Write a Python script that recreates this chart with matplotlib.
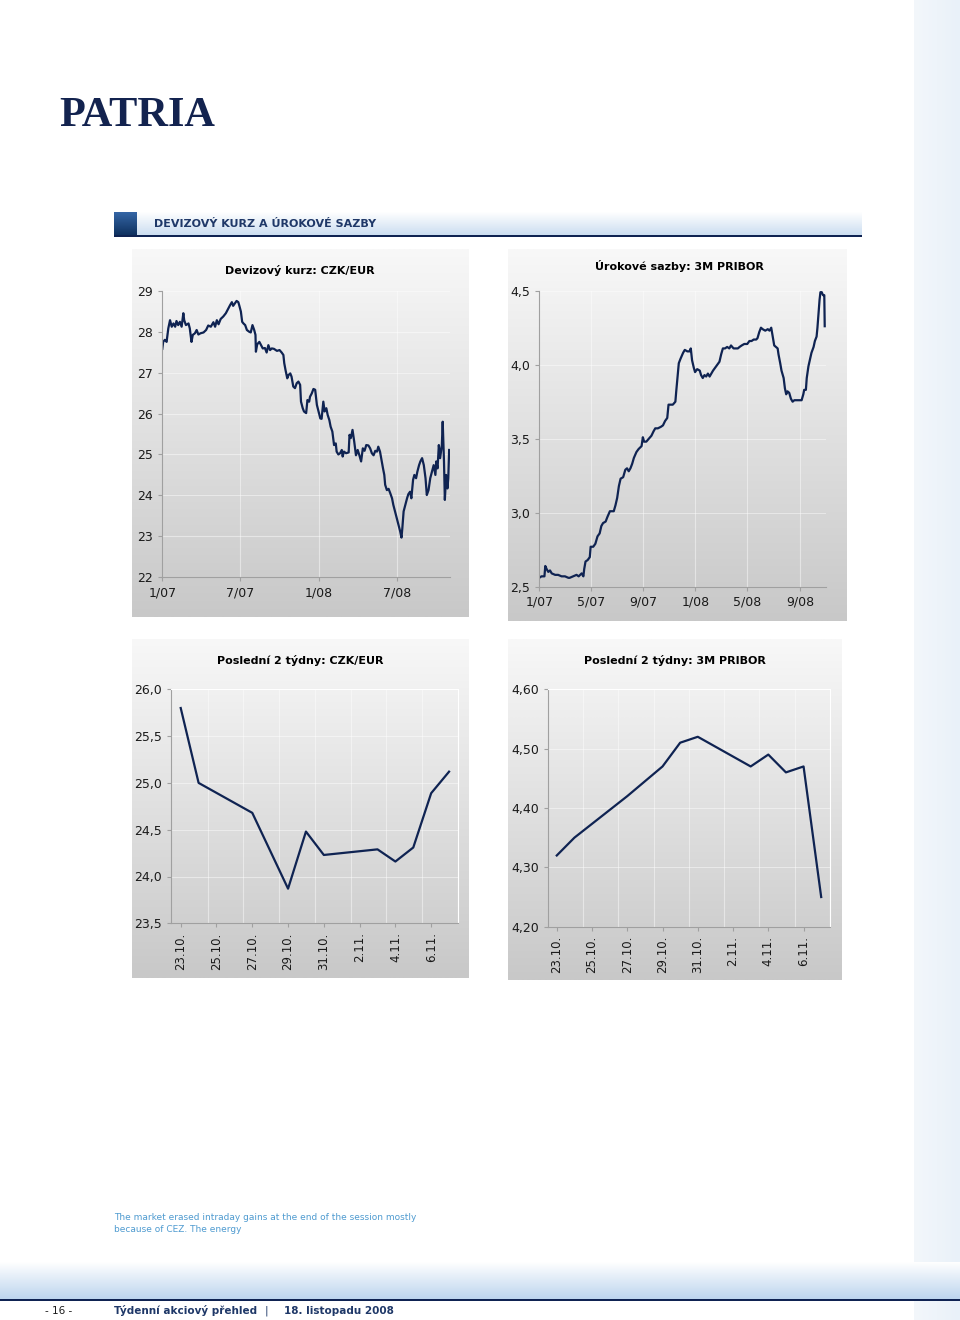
import numpy as np
import pandas as pd
import matplotlib
matplotlib.use("Agg")
import matplotlib.pyplot as plt
import matplotlib.dates as mdates
from matplotlib.colors import LinearSegmentedColormap
from matplotlib.ticker import FuncFormatter

# CZK/EUR od 1.1.2007 (dny od zacatku roku 2007)
czk_days = [0, 2, 6, 10, 14, 18, 22, 26, 30, 33, 37, 41, 45, 49, 51, 55, 61, 64, 68, 71,
            76, 80, 84, 89, 96, 102, 107, 113, 119, 123, 127, 131, 136, 142, 148, 154, 158, 162, 165, 169,
            173, 177, 179, 183, 186, 189, 193, 197, 202, 206, 210, 214, 217, 218, 221, 226, 230, 234, 239, 243,
            247, 251, 255, 260, 267, 273, 278, 282, 284, 287, 291, 294, 298, 301, 305, 309, 313, 317, 321, 323,
            327, 330, 335, 338, 342, 344, 348, 352, 356, 360, 364, 368, 371, 375, 378, 382, 385, 389, 392, 396,
            400, 404, 406, 410, 414, 418, 420, 423, 428, 434, 436, 439, 443, 447, 451, 455, 459, 463, 467, 471,
            475, 480, 484, 488, 492, 496, 500, 503, 507, 511, 514, 517, 519, 523, 527, 531, 535, 538, 542, 546,
            550, 554, 557, 559, 562, 566, 570, 573, 577, 580, 584, 587, 591, 594, 598, 601, 605, 609, 613, 616,
            620, 624, 628, 632, 636, 638, 641, 644, 647, 651, 653, 656, 658, 661, 664, 666, 668]
czk_values = [27.58, 27.75, 27.8, 27.75, 28.08, 28.28, 28.12, 28.2, 28.12, 28.26,
              28.16, 28.24, 28.12, 28.45, 28.28, 28.16, 28.2, 28.08, 27.75, 27.92,
              27.96, 28.04, 27.93, 27.96, 27.98, 28.04, 28.15, 28.12, 28.23, 28.12,
              28.28, 28.18, 28.31, 28.37, 28.45, 28.57, 28.65, 28.72, 28.63, 28.69,
              28.75, 28.72, 28.65, 28.49, 28.24, 28.2, 28.16, 28.04, 28.0, 27.98,
              28.16, 28.04, 27.92, 27.51, 27.69, 27.75, 27.67, 27.59, 27.6, 27.49,
              27.67, 27.55, 27.59, 27.58, 27.53, 27.55, 27.49, 27.43, 27.23, 27.06,
              26.86, 26.94, 26.98, 26.9, 26.66, 26.62, 26.74, 26.78, 26.7, 26.29,
              26.13, 26.05, 26.01, 26.33, 26.29, 26.41, 26.49, 26.6, 26.58, 26.21,
              26.05, 25.88, 25.87, 26.29, 26.05, 26.13, 25.97, 25.84, 25.68, 25.56,
              25.23, 25.27, 25.07, 25.0, 25.03, 25.11, 24.95, 25.07, 25.03, 25.05,
              25.48, 25.4, 25.6, 25.31, 24.98, 25.11, 24.98, 24.83, 25.15, 25.09,
              25.23, 25.22, 25.15, 25.03, 24.98, 25.09, 25.07, 25.19, 25.07, 24.83,
              24.66, 24.5, 24.26, 24.13, 24.16, 24.05, 23.93, 23.77, 23.61, 23.44,
              23.28, 23.12, 22.97, 23.2, 23.61, 23.77, 23.93, 24.03, 24.09, 23.93,
              24.38, 24.5, 24.42, 24.58, 24.74, 24.83, 24.91, 24.74, 24.42, 24.01,
              24.13, 24.42, 24.58, 24.74, 24.5, 24.83, 24.66, 25.23, 24.91, 25.23,
              25.8, 24.83, 23.89, 24.5, 24.17, 24.42, 25.11]

# 3M PRIBOR od 1.1.2007
pribor_days = [0, 5, 12, 14, 17, 21, 25, 29, 37, 44, 52, 60, 68, 71, 79, 87, 92, 99, 103, 105,
               108, 113, 118, 120, 126, 131, 136, 141, 145, 149, 155, 159, 165, 169, 174, 178, 182, 186, 190, 196,
               201, 205, 209, 213, 217, 221, 227, 232, 239, 242, 245, 250, 256, 262, 267, 271, 277, 284, 289, 294,
               299, 302, 307, 312, 318, 320, 324, 326, 330, 336, 340, 346, 351, 354, 357, 361, 364, 369, 375, 378,
               382, 386, 390, 394, 398, 402, 406, 411, 416, 421, 425, 429, 434, 439, 444, 448, 454, 458, 464, 468,
               473, 479, 486, 491, 496, 501, 507, 510, 514, 518, 522, 528, 534, 538, 542, 545, 549, 553, 557, 559,
               563, 566, 571, 574, 577, 580, 584, 588, 592, 596, 602, 608, 613, 617, 619, 623, 625, 629, 633, 636,
               641, 644, 648, 650, 653, 655, 657, 660, 663, 666, 667]
pribor_values = [2.56, 2.57, 2.57, 2.64, 2.62, 2.60, 2.61, 2.59, 2.58, 2.58,
                 2.57, 2.57, 2.56, 2.56, 2.57, 2.58, 2.57, 2.59, 2.57, 2.62,
                 2.67, 2.68, 2.70, 2.77, 2.77, 2.79, 2.84, 2.86, 2.91, 2.93,
                 2.94, 2.97, 3.01, 3.01, 3.01, 3.05, 3.10, 3.18, 3.23, 3.24,
                 3.29, 3.30, 3.28, 3.30, 3.33, 3.37, 3.41, 3.43, 3.45, 3.51,
                 3.48, 3.48, 3.50, 3.52, 3.55, 3.57, 3.57, 3.58, 3.59, 3.62,
                 3.64, 3.73, 3.73, 3.73, 3.75, 3.82, 3.95, 4.01, 4.04, 4.08,
                 4.10, 4.09, 4.09, 4.11, 4.03, 3.98, 3.95, 3.97, 3.96, 3.93,
                 3.91, 3.93, 3.92, 3.94, 3.92, 3.94, 3.96, 3.98, 4.00, 4.02,
                 4.07, 4.11, 4.11, 4.12, 4.11, 4.13, 4.11, 4.11, 4.11, 4.12,
                 4.13, 4.14, 4.14, 4.16, 4.16, 4.17, 4.17, 4.18, 4.22, 4.25,
                 4.24, 4.23, 4.24, 4.23, 4.25, 4.20, 4.13, 4.12, 4.11, 4.07,
                 4.01, 3.96, 3.91, 3.84, 3.80, 3.82, 3.81, 3.77, 3.75, 3.76,
                 3.76, 3.76, 3.76, 3.80, 3.83, 3.83, 3.91, 3.99, 4.04, 4.08,
                 4.12, 4.16, 4.19, 4.25, 4.36, 4.44, 4.49, 4.49, 4.47, 4.47,
                 4.26]

# posledni 2 tydny
last_dates = ["2008-10-23", "2008-10-24", "2008-10-27", "2008-10-29", "2008-10-30", "2008-10-31",
              "2008-11-03", "2008-11-04", "2008-11-05", "2008-11-06", "2008-11-07"]
last_czk = [25.80, 25.00, 24.68, 23.87, 24.48, 24.23, 24.29, 24.16, 24.31, 24.89, 25.12]
last_pribor = [4.32, 4.35, 4.42, 4.47, 4.51, 4.52, 4.47, 4.49, 4.46, 4.47, 4.25]

W, H = 960, 1320
NAVY = "#0f2352"
fig = plt.figure(figsize=(W / 100, H / 100), dpi=100)


def rect(x0, y0, x1, y1):
    return [x0 / W, 1 - y1 / H, (x1 - x0) / W, (y1 - y0) / H]


def gradient(x0, y0, x1, y1, c1, c2, vertical=True, z=0):
    ax = fig.add_axes(rect(x0, y0, x1, y1), zorder=z)
    g = np.linspace(0, 1, 256)
    g = g.reshape(-1, 1) if vertical else g.reshape(1, -1)
    cmap = LinearSegmentedColormap.from_list("g", [c1, c2])
    ax.imshow(g, aspect="auto", cmap=cmap, extent=[0, 1, 0, 1], interpolation="bilinear")
    ax.set_axis_off()
    return ax


def txt(x, y, s, **kw):
    fig.text(x / W, 1 - y / H, s, **kw)


# pozadi stranky
gradient(914, 0, 960, H, "#f3f7fb", "#e9f1f9", vertical=False)

# logo
txt(59, 126, "PATRIA", fontsize=30.5, family="Liberation Serif", fontweight="bold",
    color="#13234f", va="baseline")

# hlavicka sekce
gradient(114, 212, 862, 236, "#ffffff", "#c9dcf0")
gradient(114, 212, 137, 236, "#3566a6", "#0d2f5c")
gradient(114, 235, 862, 237.5, NAVY, NAVY)
txt(154, 224, "DEVIZOVÝ KURZ A ÚROKOVÉ SAZBY", fontsize=8, fontweight="bold",
    color="#1f3868", va="center")

# panely grafu
for box in [(132, 249, 469, 617), (508, 249, 846, 621), (132, 639, 469, 978), (508, 639, 842, 980)]:
    gradient(*box, "#f8f8f8", "#c8c8c8")

comma1 = FuncFormatter(lambda v, p: f"{v:.1f}".replace(".", ","))
comma2 = FuncFormatter(lambda v, p: f"{v:.2f}".replace(".", ","))


def style(ax):
    ax.set_facecolor("none")
    ax.spines["top"].set_visible(False)
    ax.spines["right"].set_visible(False)
    for s in ["left", "bottom"]:
        ax.spines[s].set_color("#a0a0a0")
        ax.spines[s].set_linewidth(0.8)
    ax.tick_params(colors="#a0a0a0", labelcolor="#1a1a1a", labelsize=9, length=3, width=0.8)
    ax.grid(True, color="white", lw=0.8, alpha=0.45)
    ax.set_axisbelow(True)


start = pd.Timestamp("2007-01-01")

# Devizovy kurz
ax1 = fig.add_axes(rect(162.3, 290.7, 450, 577.3), zorder=2)
style(ax1)
ax1.plot(start + pd.to_timedelta(czk_days, unit="D"), czk_values, color=NAVY, lw=1.6)
ax1.set_ylim(22, 29)
ax1.set_yticks(range(22, 30))
ax1.set_xlim(start, start + pd.Timedelta(days=670))
ax1.set_xticks(pd.to_datetime(["2007-01-01", "2007-07-01", "2008-01-01", "2008-07-01"]))
ax1.xaxis.set_major_formatter(mdates.DateFormatter("%-m/%y"))
txt(300, 271, "Devizový kurz: CZK/EUR", fontsize=8, fontweight="bold", ha="center", va="center")

# PRIBOR
ax2 = fig.add_axes(rect(539.3, 290.7, 826, 586.7), zorder=2)
style(ax2)
ax2.plot(start + pd.to_timedelta(pribor_days, unit="D"), pribor_values, color=NAVY, lw=1.6)
ax2.set_ylim(2.5, 4.5)
ax2.set_yticks([2.5, 3.0, 3.5, 4.0, 4.5])
ax2.yaxis.set_major_formatter(comma1)
ax2.set_xlim(start, start + pd.Timedelta(days=670))
ax2.set_xticks(pd.to_datetime(["2007-01-01", "2007-05-01", "2007-09-01",
                               "2008-01-01", "2008-05-01", "2008-09-01"]))
ax2.xaxis.set_major_formatter(mdates.DateFormatter("%-m/%y"))
txt(679, 266, "Úrokové sazby: 3M PRIBOR", fontsize=8, fontweight="bold", ha="center", va="center")

# posledni 2 tydny
dates = pd.to_datetime(last_dates)
tick_dates = pd.date_range("2008-10-23", "2008-11-06", freq="2D")


def short_axes(box, values, ylim, yticks, fmt, left, right, title, ty):
    ax = fig.add_axes(rect(*box), zorder=2)
    style(ax)
    ax.spines["top"].set_visible(True)
    ax.spines["right"].set_visible(True)
    ax.spines["top"].set_color("white")
    ax.spines["right"].set_color("white")
    ax.plot(dates, values, color=NAVY, lw=1.6)
    ax.set_ylim(*ylim)
    ax.set_yticks(yticks)
    ax.yaxis.set_major_formatter(fmt)
    ax.set_xlim(dates[0] - pd.Timedelta(days=left), dates[-1] + pd.Timedelta(days=right))
    ax.set_xticks(tick_dates)
    ax.xaxis.set_major_formatter(mdates.DateFormatter("%-d.%m."))
    ax.set_xticks(tick_dates + pd.Timedelta(hours=36), minor=True)
    ax.grid(False, axis="x", which="major")
    ax.grid(True, axis="x", which="minor", color="white", lw=0.8, alpha=0.45)
    ax.tick_params(axis="x", which="minor", length=0)
    ax.tick_params(axis="x", rotation=90, labelsize=8.5)
    txt((box[0] + box[2]) / 2 - 14, ty, title, fontsize=8, fontweight="bold", ha="center", va="center")
    return ax


short_axes((170.7, 689.3, 458, 923.3), last_czk, (23.5, 26.0), [23.5, 24.0, 24.5, 25.0, 25.5, 26.0],
           comma1, 0.56, 0.49, "Poslední 2 týdny: CZK/EUR", 661)
short_axes((548.3, 689.3, 830, 926.7), last_pribor, (4.2, 4.6), [4.2, 4.3, 4.4, 4.5, 4.6],
           comma2, 0.48, 0.47, "Poslední 2 týdny: 3M PRIBOR", 660)

# text pod grafy
txt(114, 1218, "The market erased intraday gains at the end of the session mostly",
    fontsize=6.5, color="#4f9bd0", va="center")
txt(114, 1230, "because of CEZ. The energy", fontsize=6.5, color="#4f9bd0", va="center")

# paticka
gradient(0, 1262, 960, 1299, "#ffffff", "#bdd5ee")
gradient(0, 1299, 960, 1301.5, NAVY, NAVY)
txt(45, 1311, "- 16 -", fontsize=7.5, color="#1a1a1a", va="center")
txt(114, 1311, "Týdenní akciový přehled", fontsize=7.5, fontweight="bold", color="#1f3868", va="center")
txt(265, 1311, "|", fontsize=7.5, color="#1f3868", va="center")
txt(284, 1311, "18. listopadu 2008", fontsize=7.5, fontweight="bold", color="#1f3868", va="center")

fig.savefig("out.png", dpi=100)
